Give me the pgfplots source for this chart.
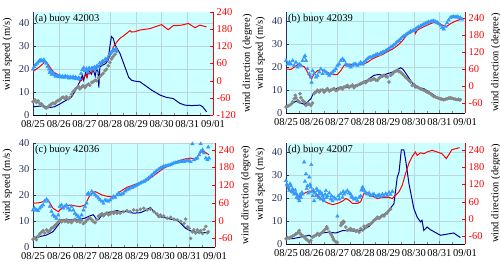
\documentclass[border=0pt]{standalone}
\usepackage{pgfplots}
\pgfplotsset{compat=1.18}
\usepackage{fontspec}
\setmainfont{Liberation Serif}
\definecolor{bgc}{RGB}{204,255,255}
\definecolor{gridc}{RGB}{185,215,220}
\definecolor{triblue}{RGB}{51,153,255}
\definecolor{greyc}{RGB}{135,135,135}
\definecolor{navy}{RGB}{0,0,150}
\definecolor{leftc}{RGB}{40,50,90}
\newcommand{\fs}{\fontsize{10.5}{12}\selectfont}
\newcommand{\ft}{\fontsize{10.5}{12}\selectfont}
\pgfplotsset{
  leftax/.style={scale only axis, anchor=south west, xmin=0, xmax=7,
    axis y line*=left, axis x line*=bottom,
    xtick={0,...,7}, xticklabels={08/25,08/26,08/27,08/28,08/29,08/30,08/31,09/01},
    minor x tick num=1, ytick={0,10,20,30,40},
    tick align=inside, major tick length=3pt, minor tick length=1.5pt,
    axis background/.style={fill=bgc},
    grid=major, grid style={gridc, line width=0.3pt},
    ylabel={wind speed (m/s)},
    every axis y label/.append style={at={(ticklabel cs:0.59)}},
    tick label style={font=\ft}, label style={font=\fs},
    xticklabel style={yshift=-2pt, inner xsep=0pt},
    y axis line style={leftc}, yticklabel style={text=leftc}, ytick style={leftc},
    /pgf/number format/assume math mode=true},
  rightax/.style={scale only axis, anchor=south west, xmin=0, xmax=7,
    axis y line*=right, axis x line=none,
    tick align=inside, major tick length=3pt,
    ylabel={wind direction (degree)},
    tick label style={font=\ft}, label style={font=\fs},
    y axis line style={red}, yticklabel style={text=red}, ytick style={red},
    /pgf/number format/assume math mode=true},
  grey/.style={only marks, mark=*, mark size=1.6pt, color=greyc},
  tri/.style={only marks, mark=triangle*, mark size=2pt, color=triblue},
  nav/.style={navy, line width=1pt, mark=none},
  redl/.style={red, line width=1pt, mark=none},
}
\begin{document}
\begin{tikzpicture}
\path[use as bounding box] (0,0) rectangle (500pt,262pt);
%%%%%%%%%%%%%%%% (a)
\begin{axis}[leftax, at={(33pt,147pt)}, width=180pt, height=103pt, ymin=0, ymax=45]
\addplot[grey] coordinates {(0.00,5.8)(0.07,6.6)(0.13,5.5)(0.20,6.2)(0.26,5.0)(0.33,4.8)(0.39,4.0)(0.46,3.3)(0.52,3.0)(0.59,3.6)(0.65,4.2)(0.72,4.8)(0.78,5.2)(0.85,5.0)(0.91,5.9)(0.98,6.4)(1.04,6.6)(1.11,7.4)(1.17,7.8)(1.24,7.2)(1.30,8.0)(1.37,7.1)(1.43,7.6)(1.50,9.0)(1.56,10.2)(1.63,11.0)(1.69,11.8)(1.76,12.5)(1.82,11.4)(1.89,12.2)(1.95,12.8)(2.02,12.0)(2.08,12.9)(2.15,13.5)(2.21,13.0)(2.28,14.2)(2.34,14.5)(2.41,15.2)(2.47,15.0)(2.54,16.2)(2.60,16.8)(2.67,17.5)(2.73,18.2)(2.80,19.3)(2.86,20.0)(2.93,21.5)(2.99,23.0)(3.06,24.5)(3.12,25.5)(3.19,26.5)(3.25,27.8)};
\addplot[nav] coordinates {(0.00,3.6)(0.39,4.0)(0.65,3.3)(0.84,3.6)(1.04,4.8)(1.30,6.5)(1.49,7.7)(1.62,10.1)(1.75,13.0)(1.82,14.5)(1.88,15.9)(1.92,17.5)(1.97,15.2)(2.05,18.5)(2.10,16.5)(2.18,19.5)(2.27,17.8)(2.34,20.0)(2.42,16.9)(2.47,20.3)(2.53,19.0)(2.56,12.0)(2.60,21.0)(2.70,21.7)(2.83,22.5)(2.92,23.9)(2.99,30.0)(3.05,34.3)(3.12,33.5)(3.18,31.0)(3.27,29.0)(3.38,27.0)(3.51,23.0)(3.64,19.0)(3.72,16.5)(3.83,15.2)(3.96,14.8)(4.16,14.5)(4.35,13.0)(4.61,10.9)(4.94,8.7)(5.19,7.7)(5.45,7.2)(5.71,5.1)(5.91,4.3)(6.17,4.1)(6.49,4.3)(6.60,3.6)(6.75,1.4)};
\node[anchor=north west, font=\fs, inner sep=2pt] at (rel axis cs:0,1) {(a) buoy 42003};
\end{axis}
\begin{axis}[rightax, at={(33pt,147pt)}, width=180pt, height=103pt, ymin=-120, ymax=240, ytick={-120,-60,...,240}]
\addplot[tri] coordinates {(0.00,40)(0.05,48)(0.10,55)(0.16,60)(0.21,66)(0.26,70)(0.31,72)(0.36,68)(0.42,73)(0.47,66)(0.52,60)(0.57,50)(0.62,40)(0.65,28)(0.68,35)(0.73,22)(0.78,28)(0.83,20)(0.88,15)(0.94,18)(0.99,13)(1.04,17)(1.09,12)(1.14,15)(1.19,11)(1.25,16)(1.30,12)(1.35,14)(1.40,9)(1.45,13)(1.51,10)(1.56,14)(1.61,8)(1.66,12)(1.71,6)(1.77,10)(1.82,8)(1.87,25)(1.92,38)(1.97,45)(2.03,35)(2.08,42)(2.13,30)(2.18,44)(2.23,38)(2.29,45)(2.34,40)(2.39,48)(2.44,42)(2.49,52)(2.55,48)(2.60,62)(2.65,58)(2.70,68)(2.75,66)(2.81,75)(2.86,72)(2.91,80)(2.96,88)(3.01,95)(3.06,100)(3.12,108)(3.17,104)(3.22,112)};
\addplot[redl] coordinates {(0.00,31.7)(0.26,48.7)(0.45,64)(0.52,65.7)(0.65,48.7)(0.78,31.7)(0.97,20.4)(1.17,14.7)(1.36,11.3)(1.56,12.5)(1.75,3.4)(1.88,0)(1.95,9)(2.05,20.4)(2.10,12.5)(2.14,35)(2.21,23.8)(2.34,35)(2.47,43)(2.60,54)(2.73,62)(2.86,69)(2.99,85)(3.06,100)(3.12,117)(3.25,134)(3.38,148)(3.51,156)(3.64,165)(3.77,175)(3.83,170)(3.96,171)(4.16,177)(4.55,182)(5.00,196)(5.26,178)(5.45,192)(5.78,194)(6.04,200)(6.30,185)(6.49,194)(6.75,188)};
\end{axis}
%%%%%%%%%%%%%%%% (b)
\begin{axis}[leftax, at={(286pt,149pt)}, width=179pt, height=101pt, ymin=0, ymax=44]
\addplot[grey] coordinates {(0.00,2.6)(0.06,2.9)(0.13,3.3)(0.19,3.8)(0.26,4.8)(0.32,6.2)(0.36,7.7)(0.39,6.7)(0.45,5.5)(0.52,4.8)(0.55,8.4)(0.58,6.7)(0.65,5.5)(0.71,4.8)(0.78,3.3)(0.84,4.1)(0.91,3.8)(0.97,3.3)(1.04,4.3)(1.10,8.4)(1.17,9.1)(1.23,9.9)(1.30,9.1)(1.36,9.9)(1.43,10.1)(1.49,9.1)(1.56,9.9)(1.62,10.6)(1.69,9.6)(1.75,9.9)(1.82,10.3)(1.88,10.6)(1.95,9.8)(2.01,10.1)(2.08,10.8)(2.14,11.0)(2.21,10.5)(2.27,11.3)(2.34,11.6)(2.40,12.0)(2.47,11.2)(2.53,11.6)(2.60,12.2)(2.66,11.0)(2.73,11.8)(2.79,12.0)(2.86,12.5)(2.92,12.8)(2.99,13.2)(3.05,13.5)(3.12,13.2)(3.18,13.9)(3.25,14.5)(3.31,14.2)(3.38,14.6)(3.44,14.9)(3.51,14.4)(3.57,14.2)(3.64,15.2)(3.70,15.7)(3.77,16.0)(3.83,16.4)(3.90,15.9)(3.96,15.7)(4.03,13.5)(4.09,16.4)(4.16,17.1)(4.22,17.8)(4.29,18.2)(4.35,18.6)(4.42,18.0)(4.48,17.8)(4.55,17.0)(4.61,16.4)(4.68,15.5)(4.74,14.9)(4.81,14.2)(4.87,13.5)(4.94,12.0)(5.00,12.5)(5.06,11.8)(5.13,11.3)(5.19,11.0)(5.26,10.6)(5.32,10.2)(5.39,9.9)(5.45,9.5)(5.52,9.1)(5.58,8.8)(5.65,8.4)(5.71,7.8)(5.78,7.2)(5.84,7.0)(5.91,6.7)(5.97,6.4)(6.04,6.2)(6.10,6.0)(6.17,5.8)(6.23,6.0)(6.30,6.2)(6.36,6.5)(6.43,6.7)(6.49,6.4)(6.56,6.2)(6.62,6.0)(6.69,5.8)(6.75,6.0)(6.82,5.8)};
\addplot[nav] coordinates {(0.00,2.3)(0.19,3.8)(0.39,5.1)(0.52,4.6)(0.71,3.8)(0.84,4.8)(0.97,6.2)(1.10,9.1)(1.23,9.6)(1.43,9.9)(1.69,10.1)(1.95,10.6)(2.14,11.3)(2.34,11.0)(2.53,11.6)(2.73,12.0)(2.92,12.3)(3.05,13.5)(3.25,14.9)(3.44,16.4)(3.64,16.8)(3.77,16.4)(3.96,17.1)(4.16,17.8)(4.35,18.8)(4.48,19.7)(4.57,19.1)(4.68,17.4)(4.87,14.2)(5.00,12.0)(5.06,11.0)(5.13,11.6)(5.19,11.0)(5.39,10.6)(5.71,8.4)(5.91,6.7)(6.17,6.2)(6.56,6.2)(6.82,5.2)};
\node[anchor=north west, font=\fs, inner sep=2pt] at (rel axis cs:0,1) {(b) buoy 42039};
\end{axis}
\begin{axis}[rightax, at={(286pt,149pt)}, width=179pt, height=101pt, ymin=-93, ymax=260, ytick={-60,0,...,240}]
\addplot[tri] coordinates {(0.00,90)(0.06,78)(0.13,84)(0.19,78)(0.26,90)(0.32,73)(0.39,84)(0.45,67)(0.52,78)(0.58,73)(0.65,90)(0.71,101)(0.74,107)(0.78,90)(0.84,61)(0.91,44)(0.97,32)(1.00,14)(1.04,55)(1.10,44)(1.17,32)(1.23,38)(1.30,50)(1.36,61)(1.43,44)(1.49,55)(1.56,50)(1.62,44)(1.69,38)(1.75,44)(1.82,50)(1.88,55)(1.95,61)(2.01,73)(2.08,78)(2.14,90)(2.21,96)(2.27,90)(2.34,78)(2.40,73)(2.47,73)(2.53,67)(2.60,73)(2.66,78)(2.73,78)(2.79,73)(2.86,78)(2.92,84)(2.99,78)(3.05,84)(3.12,90)(3.18,96)(3.25,101)(3.31,101)(3.38,104)(3.44,107)(3.51,110)(3.57,113)(3.64,111)(3.70,116)(3.77,119)(3.83,121)(3.90,124)(3.96,128)(4.03,132)(4.09,136)(4.16,140)(4.22,145)(4.29,150)(4.35,156)(4.42,160)(4.48,166)(4.55,172)(4.61,176)(4.68,180)(4.74,184)(4.81,188)(4.87,192)(4.94,194)(5.00,196)(5.06,200)(5.13,205)(5.19,208)(5.26,211)(5.32,214)(5.39,217)(5.45,220)(5.52,223)(5.58,225)(5.65,226)(5.71,228)(5.78,229)(5.84,226)(5.91,224)(5.97,219)(6.04,214)(6.10,205)(6.17,200)(6.23,210)(6.30,222)(6.36,232)(6.43,240)(6.49,243)(6.56,244)(6.62,242)(6.69,244)(6.75,241)(6.82,240)(6.88,235)};
\addplot[redl] coordinates {(0.00,61)(0.19,59)(0.32,67)(0.45,76)(0.58,73)(0.71,69)(0.81,55)(0.91,38)(1.00,26.5)(1.10,44)(1.23,55)(1.36,59)(1.49,55)(1.69,46)(1.88,41.5)(2.01,41.5)(2.14,55)(2.27,73)(2.47,78)(2.66,76)(2.86,76)(3.05,78)(3.18,84)(3.38,96)(3.57,104)(3.77,111)(3.96,121)(4.16,130)(4.35,142)(4.55,159)(4.74,182)(4.94,191)(5.04,194)(5.06,185)(5.13,196)(5.26,203)(5.45,211)(5.65,219)(5.78,223)(5.91,221)(6.10,215)(6.26,208)(6.43,219)(6.62,228)(6.82,234)(6.88,238)};
\end{axis}
%%%%%%%%%%%%%%%% (c)
\begin{axis}[leftax, at={(33pt,15pt)}, width=182pt, height=104pt, ymin=0, ymax=40]
\addplot[grey] coordinates {(0.00,3.0)(0.06,3.6)(0.13,2.8)(0.19,4.1)(0.26,5.0)(0.32,5.6)(0.39,6.3)(0.45,5.4)(0.52,6.6)(0.58,5.8)(0.65,6.4)(0.71,7.2)(0.77,7.5)(0.84,8.2)(0.90,8.8)(0.97,9.6)(1.03,10.3)(1.10,9.7)(1.16,10.2)(1.23,9.8)(1.29,10.5)(1.35,9.6)(1.42,10.0)(1.48,9.4)(1.55,10.2)(1.61,10.6)(1.68,9.8)(1.74,10.3)(1.81,9.6)(1.87,10.2)(1.94,9.0)(2.00,9.5)(2.06,10.2)(2.13,10.8)(2.19,11.2)(2.26,10.5)(2.32,9.8)(2.39,9.4)(2.45,10.6)(2.52,11.8)(2.58,12.3)(2.65,12.8)(2.71,12.0)(2.77,12.6)(2.84,13.1)(2.90,12.4)(2.97,12.8)(3.03,13.3)(3.10,12.9)(3.16,13.6)(3.23,13.0)(3.29,13.4)(3.35,13.0)(3.48,13.6)(3.61,14.0)(3.74,13.6)(3.87,14.3)(4.00,14.0)(4.13,14.5)(4.26,14.9)(4.39,14.3)(4.52,14.5)(4.65,13.6)(4.77,12.7)(4.84,11.7)(4.90,12.3)(5.03,11.9)(5.16,11.1)(5.29,11.4)(5.42,10.7)(5.55,10.4)(5.68,9.8)(5.81,9.1)(5.87,10.7)(5.94,7.8)(6.00,7.2)(6.06,3.3)(6.13,5.8)(6.19,6.6)(6.26,5.4)(6.32,6.6)(6.39,5.6)(6.45,6.3)(6.52,5.2)(6.58,6.8)(6.65,7.9)(6.71,5.5)(6.74,5.9)};
\addplot[nav] coordinates {(0.00,3.0)(0.26,4.0)(0.52,4.6)(0.77,5.9)(0.97,8.5)(1.10,10.4)(1.42,10.4)(1.81,10.7)(2.00,11.1)(2.19,12.0)(2.32,12.4)(2.45,10.6)(2.52,10.5)(2.65,12.3)(2.90,13.3)(3.23,14.0)(3.35,13.6)(3.61,13.6)(3.87,13.0)(4.13,13.2)(4.32,14.0)(4.52,15.2)(4.65,13.6)(4.84,11.7)(5.03,11.4)(5.29,10.7)(5.55,10.4)(5.74,8.5)(5.87,7.2)(6.13,5.9)(6.45,5.5)(6.77,5.5)};
\node[anchor=north west, font=\fs, inner sep=2pt] at (rel axis cs:0,1) {(c) buoy 42036};
\end{axis}
\begin{axis}[rightax, at={(33pt,15pt)}, width=182pt, height=104pt, ymin=-89, ymax=263, ytick={-60,0,...,240}]
\addplot[tri] coordinates {(0.00,36)(0.06,42)(0.13,36)(0.19,34)(0.26,42)(0.32,48)(0.39,53)(0.45,65)(0.52,72)(0.58,65)(0.65,48)(0.71,31)(0.77,19)(0.84,14)(0.90,8)(0.97,19)(1.03,48)(1.10,53)(1.16,42)(1.23,48)(1.29,53)(1.35,42)(1.42,36)(1.48,48)(1.55,36)(1.61,25)(1.68,19)(1.74,14)(1.81,8)(1.87,19)(1.94,36)(2.00,48)(2.06,59)(2.09,89)(2.13,93)(2.19,87)(2.26,99)(2.32,93)(2.39,87)(2.45,82)(2.52,76)(2.58,70)(2.65,65)(2.71,59)(2.77,70)(2.84,68)(2.90,65)(2.97,70)(3.03,76)(3.10,82)(3.16,79)(3.23,87)(3.29,93)(3.35,87)(3.42,90)(3.48,93)(3.55,100)(3.61,104)(3.68,107)(3.74,110)(3.81,112)(3.87,115.5)(3.94,118)(4.00,121)(4.06,124)(4.13,127)(4.19,130)(4.26,132.5)(4.32,136)(4.39,140)(4.45,145)(4.52,149.5)(4.58,155)(4.65,161)(4.71,165)(4.77,170)(4.84,174)(4.90,178)(4.97,181)(5.03,183.5)(5.10,185)(5.16,186)(5.23,188)(5.29,189)(5.35,192)(5.42,195)(5.48,196)(5.55,197)(5.61,199)(5.68,200)(5.74,201)(5.81,200)(5.87,202)(5.94,204)(6.00,202)(6.06,200)(6.13,260)(6.19,206)(6.26,209)(6.32,212)(6.39,223)(6.45,234)(6.45,260)(6.52,240)(6.58,229)(6.65,212)(6.71,206)(6.74,249)(6.77,212)};
\addplot[redl] coordinates {(0.00,59)(0.26,61)(0.39,64.5)(0.52,74)(0.58,70)(0.77,42)(0.97,30.6)(1.16,47.6)(1.42,53)(1.81,47.6)(2.00,53)(2.19,87)(2.39,98.5)(2.65,87)(2.90,81.5)(3.16,81.5)(3.35,98.5)(3.61,113)(3.74,117)(4.13,129)(4.45,140.4)(4.77,160.8)(5.03,177.8)(5.29,189)(5.55,200.5)(5.81,208.4)(6.06,211.8)(6.26,208.4)(6.45,231)(6.58,234.4)(6.77,223)};
\end{axis}
%%%%%%%%%%%%%%%% (d)
\begin{axis}[leftax, at={(286pt,18pt)}, width=179pt, height=101pt, ymin=0, ymax=44]
\addplot[grey] coordinates {(0.00,2.3)(0.06,2.8)(0.13,2.5)(0.19,3.0)(0.26,3.4)(0.32,3.8)(0.39,4.4)(0.45,4.8)(0.52,5.9)(0.55,4.6)(0.58,4.2)(0.65,3.6)(0.71,3.0)(0.78,2.2)(0.84,1.6)(0.91,0.9)(0.97,1.6)(1.04,3.0)(1.10,3.4)(1.17,3.8)(1.23,4.6)(1.30,3.8)(1.36,4.5)(1.43,5.2)(1.49,5.9)(1.56,6.7)(1.59,7.5)(1.62,6.7)(1.69,5.2)(1.75,4.5)(1.78,3.8)(1.82,3.0)(1.85,2.2)(1.88,1.6)(1.95,0.9)(2.01,0.7)(2.14,8.1)(2.17,9.3)(2.21,8.8)(2.24,9.9)(2.27,9.6)(2.34,7.4)(2.40,5.9)(2.47,6.4)(2.53,6.7)(2.60,6.0)(2.66,6.2)(2.73,5.5)(2.79,5.9)(2.86,5.2)(2.92,6.7)(2.99,6.0)(3.05,7.7)(3.12,7.2)(3.18,8.1)(3.25,8.5)(3.31,8.8)(3.38,9.5)(3.44,10.3)(3.51,10.9)(3.57,11.7)(3.64,11.2)(3.70,11.7)(3.77,12.5)(3.83,12.2)(3.90,13.2)(3.96,13.6)(4.03,14.6)(4.09,15.2)};
\addplot[nav] coordinates {(0.00,2.3)(0.26,2.3)(0.52,2.9)(0.71,3.3)(0.91,3.8)(1.04,2.9)(1.17,4.1)(1.36,4.8)(1.69,5.1)(1.95,4.8)(2.21,5.8)(2.47,5.8)(2.73,5.5)(2.99,6.1)(3.25,7.7)(3.44,10.0)(3.96,13.9)(4.22,17.5)(4.35,29.1)(4.42,31.3)(4.51,41.0)(4.61,41.0)(4.68,36.4)(4.81,26.2)(5.00,15.4)(5.13,11.7)(5.26,9.6)(5.32,10.3)(5.39,5.9)(5.52,7.4)(5.65,6.2)(6.04,3.8)(6.56,4.8)(6.82,2.8)};
\node[anchor=north west, font=\fs, inner sep=2pt] at (rel axis cs:0,1) {(d) buoy 42007};
\end{axis}
\begin{axis}[rightax, at={(286pt,18pt)}, width=179pt, height=101pt, ymin=-86, ymax=263, ytick={-60,0,...,240}]
\addplot[tri] coordinates {(0.00,133)(0.03,120)(0.06,115)(0.10,108)(0.13,98)(0.16,122)(0.19,115)(0.23,95)(0.26,104)(0.29,92)(0.32,86)(0.36,100)(0.39,90)(0.42,75)(0.45,80)(0.49,70)(0.52,63)(0.55,85)(0.58,75)(0.62,92)(0.65,86)(0.71,197)(0.74,130)(0.78,156)(0.81,105)(0.84,115)(0.88,90)(0.91,145)(0.94,120)(0.97,110)(0.99,188)(1.01,95)(1.04,80)(1.07,100)(1.10,63)(1.14,90)(1.17,80)(1.20,105)(1.23,98)(1.27,75)(1.30,86)(1.33,95)(1.36,69)(1.40,88)(1.43,80)(1.46,72)(1.49,63)(1.53,85)(1.56,98)(1.59,75)(1.62,80)(1.69,90)(1.75,69)(1.78,80)(1.82,63)(1.88,75)(1.95,69)(2.01,10)(2.05,80)(2.08,69)(2.14,88)(2.21,75)(2.24,95)(2.27,86)(2.34,92)(2.40,98)(2.47,90)(2.53,86)(2.56,78)(2.60,75)(2.66,69)(2.73,72)(2.79,63)(2.86,75)(2.92,80)(2.95,100)(2.99,110)(3.02,105)(3.05,98)(3.12,92)(3.18,86)(3.25,90)(3.31,80)(3.38,84)(3.44,86)(3.51,78)(3.57,80)(3.64,84)(3.70,78)(3.77,86)(3.83,80)(3.90,88)(3.96,82)(4.03,92)(4.09,85)(4.16,95)};
\addplot[redl] coordinates {(0.00,112)(0.13,100)(0.32,89)(0.52,77)(0.71,89)(0.91,97)(1.10,94.5)(1.23,83)(1.43,65)(1.62,56)(1.82,50)(2.01,54)(2.21,62)(2.34,71)(2.47,65)(2.60,54)(2.79,54)(2.92,60)(3.05,89)(3.25,83)(3.44,77)(3.57,71)(3.77,75)(4.03,75)(4.16,71)(4.29,83)(4.42,94.5)(4.55,118)(4.68,159)(4.81,194)(4.94,217)(5.06,232)(5.13,220)(5.26,229)(5.39,226)(5.52,232)(5.71,238)(5.91,232)(6.10,226)(6.27,209)(6.49,240)(6.79,247)};
\end{axis}
\end{tikzpicture}
\end{document}
